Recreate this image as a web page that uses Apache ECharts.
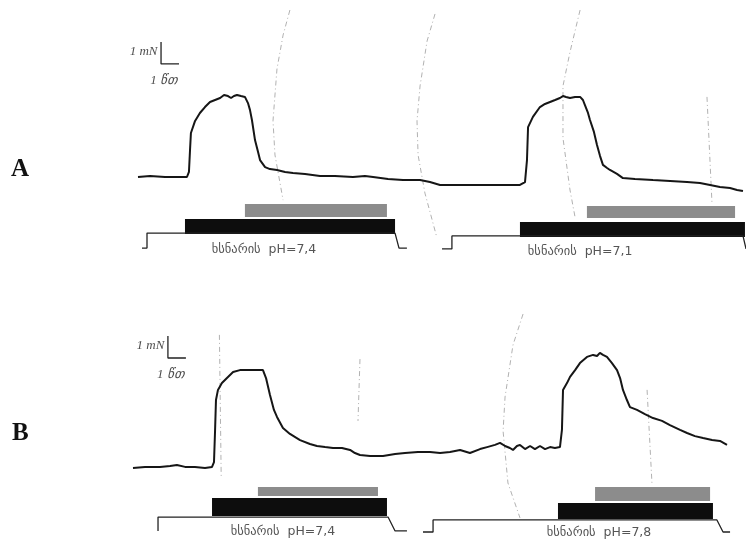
<!DOCTYPE html>
<html><head><meta charset="utf-8">
<script src="https://cdn.jsdelivr.net/npm/echarts@6/dist/echarts.min.js"></script>
<style>html,body{margin:0;padding:0;background:#fff}#c{width:746px;height:542px}</style>
</head><body><div id="c"></div>
<script>
// ---- Data: time in min, force in mN (relative to resting level at start of each record) ----
const panelLetters = ['A', 'B'];
const scaleForceLabel = '1 mN';
const scaleTimeLabel = '1 წთ';
const solutionLabels = ['ხსნარის  pH=7,4', 'ხსნარის  pH=7,1', 'ხსნარის  pH=7,4', 'ხსნარის  pH=7,8'];

// Force trace, record A
const traceA = [[0,0],[0.67,0.05],[1.5,0],[2.33,0],[2.72,0],[2.83,0.23],[2.89,1.23],[2.94,2.0],[3.17,2.55],[3.44,2.91],
 [3.72,3.18],[4.0,3.41],[4.28,3.5],[4.56,3.59],[4.78,3.73],[4.89,3.82],[5.0,3.68],[5.17,3.59],[5.33,3.68],[5.5,3.73],
 [5.72,3.68],[5.94,3.64],[6.11,3.36],[6.22,3.05],[6.33,2.59],[6.5,1.68],[6.67,1.14],[6.78,0.77],[7.06,0.45],[7.33,0.36],
 [7.72,0.32],[8.17,0.23],[8.61,0.18],[9.28,0.14],[10.11,0.05],[10.94,0.05],[11.94,0],[12.61,0.05],[13.06,0],[13.89,-0.09],
 [14.72,-0.14],[15.11,-0.14],[15.67,-0.14],[16.22,-0.23],[16.78,-0.36],[17.61,-0.36],[18.44,-0.36],[19.56,-0.36],[20.39,-0.36],[21.22,-0.36],
 [21.5,-0.23],[21.61,0.77],[21.67,2.27],[21.94,2.73],[22.33,3.18],[22.61,3.32],[22.89,3.41],[23.17,3.5],[23.44,3.59],[23.61,3.68],
 [23.78,3.64],[24.0,3.59],[24.28,3.64],[24.56,3.64],[24.72,3.5],[24.83,3.27],[25.0,2.91],[25.11,2.59],[25.33,2.05],[25.5,1.45],
 [25.67,0.95],[25.83,0.55],[26.06,0.41],[26.22,0.32],[26.61,0.14],[26.94,-0.05],[27.61,-0.09],[28.61,-0.14],[29.56,-0.18],[30.5,-0.23],
 [31.22,-0.27],[31.78,-0.36],[32.33,-0.45],[32.89,-0.5],[33.28,-0.59],[33.61,-0.64]];

// Force trace, record B
const traceB = [[0,0],[0.67,0.05],[1.5,0.05],[2.06,0.09],[2.44,0.14],[2.89,0.05],[3.44,0.05],[4.0,0],[4.39,0.05],[4.5,0.27],
 [4.56,1.73],[4.61,3.09],[4.72,3.55],[4.94,3.86],[5.22,4.09],[5.56,4.36],[5.94,4.45],[6.5,4.45],[6.94,4.45],[7.22,4.45],
 [7.39,4.09],[7.61,3.32],[7.83,2.64],[8.0,2.32],[8.33,1.82],[8.72,1.55],[9.28,1.27],[9.83,1.09],[10.22,1.0],[10.67,0.95],
 [11.11,0.91],[11.61,0.91],[12.06,0.82],[12.33,0.68],[12.61,0.59],[13.17,0.55],[13.89,0.55],[14.56,0.64],[15.11,0.68],[15.83,0.73],
 [16.5,0.73],[17.06,0.68],[17.61,0.73],[18.17,0.82],[18.72,0.68],[19.28,0.86],[19.67,0.95],[20.11,1.05],[20.39,1.14],[20.67,1.0],
 [20.94,0.91],[21.11,0.82],[21.33,1.0],[21.5,1.05],[21.78,0.86],[22.06,1.0],[22.33,0.86],[22.61,1.0],[22.89,0.86],[23.17,0.95],
 [23.44,0.91],[23.72,0.95],[23.83,1.73],[23.89,3.55],[24.11,3.86],[24.28,4.14],[24.56,4.45],[24.83,4.77],[25.22,5.05],[25.56,5.14],
 [25.78,5.09],[25.94,5.23],[26.11,5.14],[26.33,5.05],[26.61,4.77],[26.89,4.45],[27.06,4.09],[27.22,3.55],[27.44,3.09],[27.61,2.77],
 [28.0,2.64],[28.44,2.45],[28.89,2.27],[29.39,2.14],[29.83,1.95],[30.39,1.73],[30.78,1.59],[31.22,1.45],[31.67,1.36],[32.17,1.27],
 [32.61,1.23],[33.0,1.05]];

// Solution-change marker lines (step lines under each record)
const markerA1 = [[0.22,-3.23],[0.5,-3.23],[0.5,-2.55],[14.28,-2.55],[14.5,-3.23],[14.94,-3.23]];
const markerA2 = [[16.89,-3.27],[17.44,-3.27],[17.44,-2.68],[33.61,-2.68],[33.78,-3.27]];
const markerB1 = [[1.39,-2.86],[1.39,-2.23],[14.17,-2.23],[14.56,-2.86],[15.22,-2.86]];
const markerB2 = [[16.11,-2.91],[16.67,-2.91],[16.67,-2.36],[32.44,-2.36],[32.78,-2.91],[33.17,-2.91]];

// Application bars: [start min, end min, top, bottom]
const blackBarsA = [[2.61,14.28,-1.91,-2.59],[21.22,33.72,-2.05,-2.73]];
const grayBarsA  = [[5.94,13.83,-1.23,-1.82],[24.94,33.17,-1.32,-1.86]];
const blackBarsB = [[4.39,14.11,-1.36,-2.18],[23.61,32.22,-1.59,-2.32]];
const grayBarsB  = [[6.94,13.61,-0.86,-1.27],[25.67,32.06,-0.86,-1.5]];

// Label anchor positions [min, mN]
const labelPosA = [[7.0,-3.32],[24.56,-3.41]];
const labelPosB = [[8.33,-2.91],[25.89,-2.95]];

// Calibration bars: corner [min, mN]
const scaleCornerA = [1.28, 5.14];
const scaleCornerB = [1.94, 5.0];

// Recorder paper grid arcs (faint)
const paperA = [
 [[8.44,7.59],[8.06,6.45],[7.72,4.91],[7.5,2.55],[7.61,1.0],[8.06,-1.05]],
 [[16.5,7.41],[16.06,6.18],[15.67,4.14],[15.5,2.55],[15.56,1.0],[15.94,-0.73],[16.61,-2.77]],
 [[24.56,7.59],[24.0,5.68],[23.61,4.14],[23.61,1.77],[24.0,-0.59],[24.28,-1.82]],
 [[31.61,3.64],[31.89,-1.23]]
];
const paperB = [
 [[21.67,7.0],[21.11,5.59],[20.67,3.23],[20.56,1.68],[20.83,-0.68],[21.5,-2.27]],
 [[4.8,6.05],[4.9,-0.41]],
 [[12.61,4.95],[12.5,2.14]],
 [[28.56,3.55],[28.83,-0.68]]
];

// ---- Chart ----
const chart = echarts.init(document.getElementById('c'));

function rectItem(params, api) {
  const p0 = api.coord([api.value(0), api.value(2)]);
  const p1 = api.coord([api.value(1), api.value(3)]);
  return { type: 'rect', shape: { x: p0[0], y: p0[1], width: p1[0] - p0[0], height: p1[1] - p0[1] },
           style: { fill: api.visual('color') } };
}
function lineS(data, idx, opts) {
  return Object.assign({ type: 'line', data: data, xAxisIndex: idx, yAxisIndex: idx, showSymbol: false,
    symbol: 'none', smooth: false, silent: true, animation: false,
    lineStyle: { color: '#161616', width: 2 } }, opts || {});
}
function barsS(data, idx, color) {
  return { type: 'custom', renderItem: rectItem, data: data, xAxisIndex: idx, yAxisIndex: idx,
    encode: { x: [0, 1], y: [2, 3] }, itemStyle: { color: color }, silent: true, animation: false };
}
function labelS(pos, texts, idx) {
  return { type: 'scatter', xAxisIndex: idx, yAxisIndex: idx, symbolSize: 0, silent: true, animation: false,
    data: pos.map((p, i) => ({ value: p, name: texts[i] })),
    label: { show: true, position: [0, 0], align: 'center', verticalAlign: 'middle',
      formatter: p => p.name, color: '#2a2a2a', fontSize: 12.5, fontFamily: 'DejaVu Sans' } };
}
function scaleS(c, idx) {
  return lineS([[c[0], c[1] + 1], [c[0], c[1]], [c[0] + 1, c[1]]], idx, { lineStyle: { color: '#222', width: 1.3 } });
}
function scaleLabels(c, idx) {
  return { type: 'scatter', xAxisIndex: idx, yAxisIndex: idx, symbolSize: 0, silent: true, animation: false,
    data: [
      { value: [c[0] - 0.2, c[1] + 0.55], name: scaleForceLabel, label: { align: 'right' } },
      { value: [c[0] - 0.6, c[1] - 0.75], name: scaleTimeLabel, label: { align: 'left' } }
    ],
    label: { show: true, position: [0, 0], verticalAlign: 'middle', formatter: p => p.name,
      color: '#222', fontSize: 13, fontStyle: 'italic', fontFamily: 'Liberation Serif' } };
}
const paperStyle = { lineStyle: { color: '#a8a8a8', width: 0.9, type: [5, 3, 1, 3] } };

const series = [];
paperA.forEach(a => series.push(lineS(a, 0, paperStyle)));
paperB.forEach(a => series.push(lineS(a, 1, paperStyle)));
series.push(lineS(markerA1, 0, { lineStyle: { color: '#222', width: 1.3 } }));
series.push(lineS(markerA2, 0, { lineStyle: { color: '#222', width: 1.3 } }));
series.push(lineS(markerB1, 1, { lineStyle: { color: '#222', width: 1.3 } }));
series.push(lineS(markerB2, 1, { lineStyle: { color: '#222', width: 1.3 } }));
series.push(barsS(blackBarsA, 0, '#0d0d0d'));
series.push(barsS(grayBarsA, 0, '#8c8c8c'));
series.push(barsS(blackBarsB, 1, '#0d0d0d'));
series.push(barsS(grayBarsB, 1, '#8c8c8c'));
series.push(lineS(traceA, 0));
series.push(lineS(traceB, 1));
series.push(labelS(labelPosA, solutionLabels.slice(0, 2), 0));
series.push(labelS(labelPosB, solutionLabels.slice(2, 4), 1));
series.push(scaleS(scaleCornerA, 0));
series.push(scaleS(scaleCornerB, 1));
series.push(scaleLabels(scaleCornerA, 0));
series.push(scaleLabels(scaleCornerB, 1));

chart.setOption({
  backgroundColor: '#fff',
  animation: false,
  grid: [
    { left: 0, right: 0, top: 0, height: 271 },
    { left: 0, right: 0, top: 271, height: 271 }
  ],
  xAxis: [
    { type: 'value', gridIndex: 0, min: -7.6667, max: 33.7778, show: false },
    { type: 'value', gridIndex: 1, min: -7.3889, max: 34.0556, show: false }
  ],
  yAxis: [
    { type: 'value', gridIndex: 0, min: -4.2727, max: 8.0455, show: false },
    { type: 'value', gridIndex: 1, min: -3.3636, max: 8.9545, show: false }
  ],
  graphic: [
    { type: 'text', left: 11, top: 157, style: { text: panelLetters[0], font: 'bold 25px "Liberation Serif"', fill: '#111' } },
    { type: 'text', left: 12, top: 421, style: { text: panelLetters[1], font: 'bold 25px "Liberation Serif"', fill: '#111' } }
  ],
  series: series
});
</script>
</body></html>
